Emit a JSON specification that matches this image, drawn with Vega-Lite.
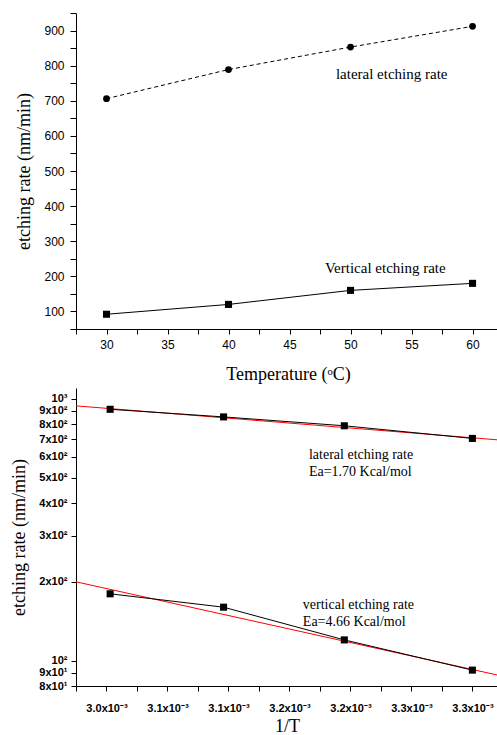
{
  "$schema": "https://vega.github.io/schema/vega-lite/v6.json",
  "background": "white",
  "padding": {"left": 10, "top": 7, "right": 0, "bottom": 0},
  "spacing": 5,
  "config": {
    "view": {"stroke": null},
    "axis": {"grid": false, "domainColor": "black", "tickColor": "black", "labelColor": "black", "titleColor": "black", "labelOverlap": false, "labelFlush": false, "titleFont": "Liberation Serif", "titleFontSize": 18, "titleFontWeight": "normal", "labelFont": "Liberation Sans"},
    "text": {"font": "Liberation Serif", "color": "black"}
  },
  "datasets": {
    "topLateral": [{"temp": 30, "rate": 706}, {"temp": 40, "rate": 789}, {"temp": 50, "rate": 853}, {"temp": 60, "rate": 912}],
    "topVertical": [{"temp": 30, "rate": 92}, {"temp": 40, "rate": 120}, {"temp": 50, "rate": 160}, {"temp": 60, "rate": 180}],
    "bottomLateral": [{"invT": 0.003003, "rate": 912}, {"invT": 0.003096, "rate": 853}, {"invT": 0.003195, "rate": 789}, {"invT": 0.0033, "rate": 706}],
    "bottomVertical": [{"invT": 0.003003, "rate": 180}, {"invT": 0.003096, "rate": 160}, {"invT": 0.003195, "rate": 120}, {"invT": 0.0033, "rate": 92}],
    "fitLateral": [{"invT": 0.002975, "rate": 940}, {"invT": 0.003321, "rate": 697}],
    "fitVertical": [{"invT": 0.002975, "rate": 200}, {"invT": 0.003321, "rate": 88}]
  },
  "vconcat": [
    {
      "width": 424,
      "height": 316,
      "layer": [
        {
          "data": {"name": "topLateral"},
          "mark": {"type": "line", "color": "black", "strokeWidth": 1, "strokeDash": [4, 3]},
          "encoding": {
            "x": {"field": "temp", "type": "quantitative", "scale": {"domain": [27.5, 62.25], "nice": false, "zero": false},
              "axis": {"title": "Temperature (ᵒC)", "values": [27.5, 30, 32.5, 35, 37.5, 40, 42.5, 45, 47.5, 50, 52.5, 55, 57.5, 60],
                "tickCount": 100,
                "labelExpr": "datum.value / 5 === round(datum.value / 5) ? format(datum.value, 'd') : ''",
                "tickSize": 5,
                "encode": {"ticks": {"update": {"y2": {"signal": "datum.value / 5 === round(datum.value / 5) ? 5 : 3"}}}},
                "labelFontSize": 12, "labelPadding": 5, "titlePadding": 15}},
            "y": {"field": "rate", "type": "quantitative", "scale": {"domain": [50, 950], "nice": false, "zero": false},
              "axis": {"title": "etching rate (nm/min)", "values": [50, 100, 150, 200, 250, 300, 350, 400, 450, 500, 550, 600, 650, 700, 750, 800, 850, 900, 950],
                "tickCount": 100,
                "labelExpr": "datum.value / 100 === round(datum.value / 100) ? format(datum.value, 'd') : ''",
                "tickSize": 6,
                "encode": {"ticks": {"update": {"x2": {"signal": "datum.value / 100 === round(datum.value / 100) ? -6 : -4"}}}},
                "labelFontSize": 12, "labelPadding": 6, "titlePadding": 10}}
          }
        },
        {
          "data": {"name": "topLateral"},
          "mark": {"type": "point", "shape": "circle", "filled": true, "color": "black", "size": 46, "opacity": 1},
          "encoding": {"x": {"field": "temp", "type": "quantitative"}, "y": {"field": "rate", "type": "quantitative"}}
        },
        {
          "data": {"name": "topVertical"},
          "mark": {"type": "line", "color": "black", "strokeWidth": 1},
          "encoding": {"x": {"field": "temp", "type": "quantitative"}, "y": {"field": "rate", "type": "quantitative"}}
        },
        {
          "data": {"name": "topVertical"},
          "mark": {"type": "square", "color": "black", "size": 50, "opacity": 1},
          "encoding": {"x": {"field": "temp", "type": "quantitative"}, "y": {"field": "rate", "type": "quantitative"}}
        },
        {
          "data": {"values": [{"label": "lateral etching rate"}]},
          "mark": {"type": "text", "align": "left", "baseline": "middle", "fontSize": 15},
          "encoding": {"x": {"datum": 48.8}, "y": {"datum": 776}, "text": {"field": "label"}}
        },
        {
          "data": {"values": [{"label": "Vertical etching rate"}]},
          "mark": {"type": "text", "align": "left", "baseline": "middle", "fontSize": 15},
          "encoding": {"x": {"datum": 47.9}, "y": {"datum": 224}, "text": {"field": "label"}}
        }
      ]
    },
    {
      "width": 422,
      "height": 298,
      "layer": [
        {
          "data": {"name": "fitLateral"},
          "mark": {"type": "line", "color": "#ff0000", "strokeWidth": 1},
          "encoding": {
            "x": {"field": "invT", "type": "quantitative", "scale": {"domain": [0.002975, 0.003321], "nice": false, "zero": false},
              "axis": {"title": "1/T", "values": [0.002975, 0.003, 0.003025, 0.00305, 0.003075, 0.0031, 0.003125, 0.00315, 0.003175, 0.0032, 0.003225, 0.00325, 0.003275, 0.0033],
                "tickCount": 100,
                "labelExpr": "round(datum.value * 40000) / 2 === round(round(datum.value * 40000) / 2) ? format(round(datum.value * 10000 + 0.001) / 10, '.1f') + 'x10⁻³' : ''",
                "tickSize": 5,
                "encode": {"ticks": {"update": {"y2": {"signal": "round(datum.value * 40000) / 2 === round(round(datum.value * 40000) / 2) ? 5 : 3"}}}},
                "labelFontSize": 11, "labelFontWeight": "bold", "labelPadding": 11, "titlePadding": 4}},
            "y": {"field": "rate", "type": "quantitative", "scale": {"type": "log", "domain": [80, 1100], "nice": false},
              "axis": {"title": "etching rate (nm/min)", "values": [80, 90, 100, 200, 300, 400, 500, 600, 700, 800, 900, 1000],
                "tickCount": 100,
                "labelExpr": "datum.value === 1000 ? '10³' : datum.value === 100 ? '10²' : datum.value < 100 ? format(round(datum.value / 10), 'd') + 'x10¹' : format(round(datum.value / 100), 'd') + 'x10²'",
                "tickSize": 5, "labelFontSize": 11, "labelFontWeight": "bold", "labelPadding": 4, "titlePadding": 10}}
          }
        },
        {
          "data": {"name": "fitVertical"},
          "mark": {"type": "line", "color": "#ff0000", "strokeWidth": 1},
          "encoding": {"x": {"field": "invT", "type": "quantitative"}, "y": {"field": "rate", "type": "quantitative"}}
        },
        {
          "data": {"name": "bottomLateral"},
          "mark": {"type": "line", "color": "black", "strokeWidth": 1},
          "encoding": {"x": {"field": "invT", "type": "quantitative"}, "y": {"field": "rate", "type": "quantitative"}}
        },
        {
          "data": {"name": "bottomVertical"},
          "mark": {"type": "line", "color": "black", "strokeWidth": 1},
          "encoding": {"x": {"field": "invT", "type": "quantitative"}, "y": {"field": "rate", "type": "quantitative"}}
        },
        {
          "data": {"name": "bottomLateral"},
          "mark": {"type": "square", "color": "black", "size": 50, "opacity": 1},
          "encoding": {"x": {"field": "invT", "type": "quantitative"}, "y": {"field": "rate", "type": "quantitative"}}
        },
        {
          "data": {"name": "bottomVertical"},
          "mark": {"type": "square", "color": "black", "size": 50, "opacity": 1},
          "encoding": {"x": {"field": "invT", "type": "quantitative"}, "y": {"field": "rate", "type": "quantitative"}}
        },
        {
          "data": {"values": [{"label": "lateral etching rate"}]},
          "mark": {"type": "text", "align": "left", "baseline": "middle", "fontSize": 14},
          "encoding": {"x": {"datum": 0.003166}, "y": {"datum": 610}, "text": {"field": "label"}}
        },
        {
          "data": {"values": [{"label": "Ea=1.70 Kcal/mol"}]},
          "mark": {"type": "text", "align": "left", "baseline": "middle", "fontSize": 14},
          "encoding": {"x": {"datum": 0.003166}, "y": {"datum": 525}, "text": {"field": "label"}}
        },
        {
          "data": {"values": [{"label": "vertical etching rate"}]},
          "mark": {"type": "text", "align": "left", "baseline": "middle", "fontSize": 14},
          "encoding": {"x": {"datum": 0.003161}, "y": {"datum": 163}, "text": {"field": "label"}}
        },
        {
          "data": {"values": [{"label": "Ea=4.66 Kcal/mol"}]},
          "mark": {"type": "text", "align": "left", "baseline": "middle", "fontSize": 14},
          "encoding": {"x": {"datum": 0.003161}, "y": {"datum": 140.5}, "text": {"field": "label"}}
        }
      ]
    }
  ]
}
